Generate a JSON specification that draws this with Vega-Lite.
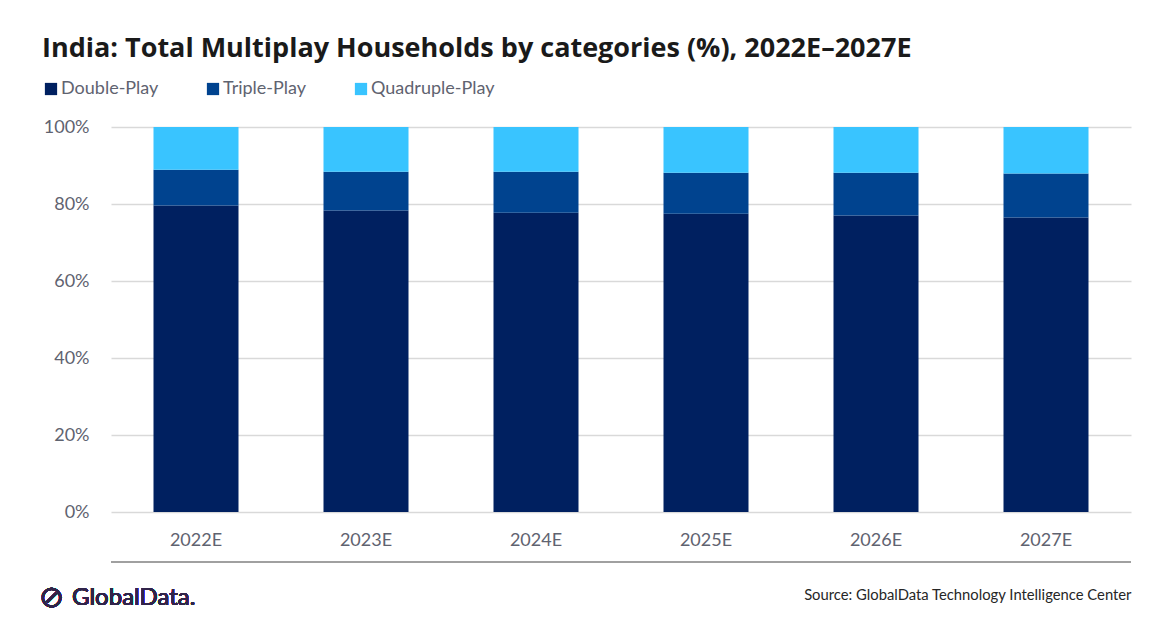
{
  "$schema": "https://vega.github.io/schema/vega-lite/v6.json",
  "width": 1020,
  "height": 385,
  "autosize": {"type": "none"},
  "padding": {"left": 111, "top": 127, "right": 41, "bottom": 116},
  "title": {
    "text": "India: Total Multiplay Households by categories (%), 2022E–2027E",
    "anchor": "start",
    "frame": "group",
    "dx": -69,
    "font": "Open Sans",
    "fontSize": 27,
    "fontWeight": "bold",
    "color": "#1a1a1a",
    "offset": 17
  },
  "data": {
    "values": [
      {"year": "2022E", "play": "Double-Play", "share": 79.6},
      {"year": "2022E", "play": "Triple-Play", "share": 9.3},
      {"year": "2022E", "play": "Quadruple-Play", "share": 11.1},
      {"year": "2023E", "play": "Double-Play", "share": 78.3},
      {"year": "2023E", "play": "Triple-Play", "share": 10.1},
      {"year": "2023E", "play": "Quadruple-Play", "share": 11.6},
      {"year": "2024E", "play": "Double-Play", "share": 77.7},
      {"year": "2024E", "play": "Triple-Play", "share": 10.7},
      {"year": "2024E", "play": "Quadruple-Play", "share": 11.6},
      {"year": "2025E", "play": "Double-Play", "share": 77.5},
      {"year": "2025E", "play": "Triple-Play", "share": 10.6},
      {"year": "2025E", "play": "Quadruple-Play", "share": 11.9},
      {"year": "2026E", "play": "Double-Play", "share": 77.0},
      {"year": "2026E", "play": "Triple-Play", "share": 11.1},
      {"year": "2026E", "play": "Quadruple-Play", "share": 11.9},
      {"year": "2027E", "play": "Double-Play", "share": 76.5},
      {"year": "2027E", "play": "Triple-Play", "share": 11.4},
      {"year": "2027E", "play": "Quadruple-Play", "share": 12.1}
    ]
  },
  "layer": [
    {
      "transform": [
        {"calculate": "indexof(['Double-Play','Triple-Play','Quadruple-Play'], datum.play)", "as": "stack_rank"}
      ],
      "mark": {"type": "bar"},
      "encoding": {
        "x": {
          "field": "year",
          "type": "nominal",
          "title": "Source: GlobalData Technology Intelligence Center",
          "scale": {"paddingInner": 0.5, "paddingOuter": 0.25},
          "axis": {
            "labelAngle": 0,
            "labelFont": "Lato",
            "labelFontSize": 18,
            "labelColor": "#5f6370",
            "labelPadding": 19,
            "ticks": false,
            "domain": false,
            "titleFont": "Lato",
            "titleFontSize": 14.8,
            "titleFontWeight": "normal",
            "titleColor": "#262626",
            "titleAnchor": "end",
            "titleAlign": "right",
            "titlePadding": 38
          }
        },
        "y": {
          "field": "share",
          "type": "quantitative",
          "stack": "normalize",
          "title": null,
          "scale": {"domain": [0, 1], "nice": false},
          "axis": {
            "values": [0, 0.2, 0.4, 0.6, 0.8, 1],
            "format": ".0%",
            "labelFont": "Lato",
            "labelFontSize": 18,
            "labelColor": "#5f6370",
            "labelPadding": 22,
            "ticks": false,
            "domain": false,
            "gridColor": "#d9d9d9",
            "gridWidth": 1.3
          }
        },
        "order": {"field": "stack_rank", "type": "quantitative", "sort": "ascending"},
        "color": {
          "field": "play",
          "type": "nominal",
          "scale": {
            "domain": ["Double-Play", "Triple-Play", "Quadruple-Play"],
            "range": ["#002060", "#00438f", "#39c4ff"]
          },
          "legend": {
            "title": null,
            "orient": "none",
            "direction": "horizontal",
            "legendX": -69,
            "legendY": -47,
            "symbolType": "square",
            "symbolSize": 150,
            "symbolStrokeWidth": 0,
            "labelFont": "Lato",
            "labelFontSize": 18,
            "labelColor": "#5f6370",
            "labelOffset": 1,
            "columnPadding": 45
          }
        }
      }
    },
    {
      "mark": {"type": "rule", "color": "#a0a0a0", "strokeWidth": 1.5},
      "encoding": {
        "y": {"datum": -0.13}
      }
    },
    {
      "mark": {
        "type": "text",
        "text": "⊘",
        "align": "left",
        "baseline": "middle",
        "dx": -157,
        "font": "DejaVu Sans",
        "fontSize": 30,
        "fontWeight": "lighter",
        "color": "#30244a"
      },
      "encoding": {
        "x": {"datum": "2022E", "type": "nominal", "title": "Source: GlobalData Technology Intelligence Center"},
        "y": {"datum": -0.223}
      }
    },
    {
      "mark": {
        "type": "text",
        "text": "GlobalData.",
        "align": "left",
        "baseline": "middle",
        "dx": -124,
        "font": "Lato",
        "fontSize": 24,
        "color": "#30244a"
      },
      "encoding": {
        "x": {"datum": "2022E", "type": "nominal", "title": "Source: GlobalData Technology Intelligence Center"},
        "y": {"datum": -0.223}
      }
    }
  ],
  "config": {
    "view": {"stroke": null},
    "background": "#ffffff"
  }
}
